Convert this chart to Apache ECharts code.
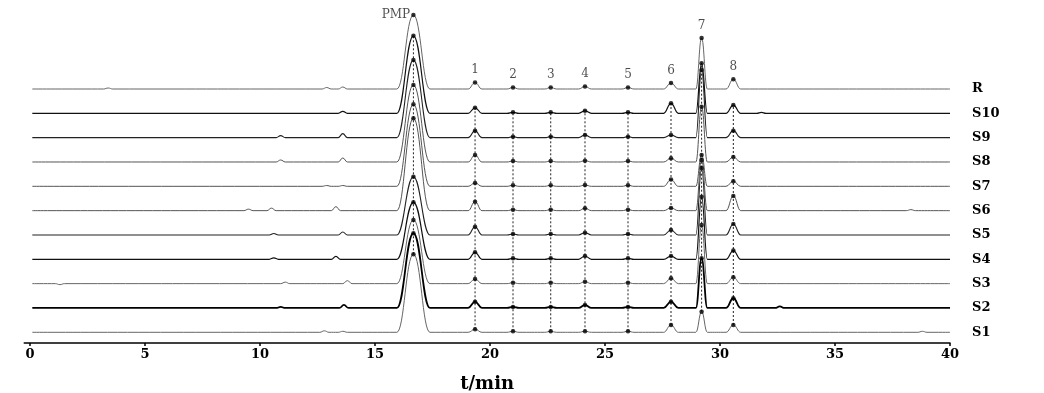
<!DOCTYPE html>
<html><head><meta charset="utf-8">
<script src="https://cdn.jsdelivr.net/npm/echarts@6/dist/echarts.min.js"></script>
<style>html,body{margin:0;padding:0;background:#fff}#c{width:1044px;height:393px}</style>
</head><body><div id="c"></div>
<script>
// ---- data ----
const samples = ['S1','S2','S3','S4','S5','S6','S7','S8','S9','S10','R'];
const peakLabels = ['PMP','1','2','3','4','5','6','7','8'];
const peakTimes = [16.67, 19.35, 21.0, 22.64, 24.13, 26.0, 27.87, 29.2, 30.58];
const peakHalfWidths = [0.72, 0.3, 0.26, 0.26, 0.28, 0.26, 0.32, 0.25, 0.32];
// apex heights per sample, order: PMP,1..8
const hS1  = [78,   3,   1, 1, 1,   1, 7.3, 20.6, 7.3];
const hS2  = [74.7, 6.3, 1, 1, 3,   1, 6.3, 49.7, 9.7];
const hS3  = [63.7, 4.7, 1, 1, 2,   1, 5.3, 58.7, 6.3];
const hS4  = [57,   7,   1, 1, 3.3, 1, 3.3, 62.6, 8.7];
const hS5  = [58.3, 8.3, 1, 1, 2.3, 1, 5,   67,   11];
const hS6  = [92.4, 9,   1, 1, 2.4, 1, 2.7, 50.7, 14.7];
const hS7  = [82,   3.4, 1, 1, 1.3, 1, 6.7, 31.3, 5];
const hS8  = [77,   7,   1, 1, 1.3, 1, 3.7, 55.3, 5];
const hS9  = [77.7, 7,   1, 1, 2.7, 1, 2.7, 67.7, 7];
const hS10 = [77.6, 5.6, 1, 1, 2.5, 1, 10,  50,   8.3];
const hR   = [74,   6.5, 1.5, 1.5, 2.5, 1.5, 6, 51, 9.7];
// small baseline bumps [time, height]
const mS1  = [[12.8,1.5],[13.6,1],[38.8,1]];
const mS2  = [[10.9,1],[13.65,3],[32.6,1.5]];
const mS3  = [[1.3,-1],[11.1,1.5],[13.8,3]];
const mS4  = [[10.6,1.5],[13.3,3]];
const mS5  = [[10.6,1.5],[13.6,3]];
const mS6  = [[9.5,1.5],[10.5,2.5],[13.3,4],[38.3,1]];
const mS7  = [[12.9,0.8],[13.6,0.8]];
const mS8  = [[10.9,2],[13.6,4]];
const mS9  = [[10.9,2],[13.6,4]];
const mS10 = [[13.6,2],[31.8,1]];
const mR   = [[3.4,1],[12.9,1.5],[13.6,2]];
const xTicks = [0,5,10,15,20,25,30,35,40];
const runStart = 0.1, runEnd = 40;

const heights = [hS1,hS2,hS3,hS4,hS5,hS6,hS7,hS8,hS9,hS10,hR];
const minors = [mS1,mS2,mS3,mS4,mS5,mS6,mS7,mS8,mS9,mS10,mR];

// ---- layout / style ----
const baseS1 = 10.7, traceGap = 24.33, minorHalfWidth = 0.2;
const traceColors = ['#666','#000','#666','#111','#222','#555','#555','#555','#222','#111','#666'];
const traceWidths = [1,1.8,1,1.2,1.1,1,1,1,1.1,1.2,1];
const serif = '"DejaVu Serif", "Liberation Serif", serif';

function baseOf(i){ return baseS1 + i*traceGap; }
function tracePoints(i){
  const base = baseOf(i);
  const pk = peakTimes.map((t,k)=>({t, w: peakHalfWidths[k], h: heights[i][k]}))
    .concat(minors[i].map(([t,h])=>({t, w: minorHalfWidth, h})))
    .sort((a,b)=>a.t-b.t);
  const pts = [[runStart, base]];
  pk.forEach(p=>{ pts.push([p.t-p.w, base],[p.t, base+p.h],[p.t+p.w, base]); });
  pts.push([runEnd, base]);
  return pts;
}

const series = [];
samples.forEach((name,i)=>{
  series.push({
    type:'line', name, data: tracePoints(i), showSymbol:false, symbol:'none',
    smooth:0.45, smoothMonotone:'x', silent:true, z:3,
    lineStyle:{color:traceColors[i], width:traceWidths[i]},
    endLabel:{show:true, formatter:'{a}', distance:22, color:'#000',
      fontFamily:serif, fontWeight:'bold', fontSize:13}
  });
});
// dotted connectors S1..S10
peakTimes.forEach((t,k)=>{
  const pts = [];
  for(let i=0;i<10;i++) pts.push([t, baseOf(i)+heights[i][k]]);
  series.push({type:'line', data:pts, symbol:'none', silent:true, z:2,
    lineStyle:{color:'#222', width:1, type:[2,2]}});
});
// apex dots
const dots = [];
for(let i=0;i<10;i++) peakTimes.forEach((t,k)=>dots.push([t, baseOf(i)+heights[i][k]]));
series.push({type:'scatter', data:dots, symbolSize:4.5, itemStyle:{color:'#000'}, silent:true, z:4});
// reference apex dots with labels
series.push({type:'scatter', symbolSize:4.5, itemStyle:{color:'#000'}, silent:true, z:4,
  data: peakTimes.map((t,k)=>({value:[t, baseOf(10)+hR[k]],
    label:{show:true, formatter:peakLabels[k], position: k===0?'left':'top', distance: k===0?1:4,
      color:'#1e1e1e', fontFamily:serif, fontSize:12}}))
});

const chart = echarts.init(document.getElementById('c'), null, {renderer:'canvas'});
chart.setOption({
  animation:false,
  backgroundColor:'#fff',
  grid:{left:24.25, right:94, top:3, bottom:50, containLabel:false, outerBoundsMode:'none'},
  xAxis:{type:'value', min:-0.25, max:40,
    name:'t/min', nameLocation:'middle', nameGap:32,
    nameTextStyle:{fontFamily:serif, fontWeight:'bold', fontSize:18, color:'#000'},
    axisLine:{show:true, lineStyle:{color:'#000', width:1.5}},
    axisTick:{show:true, customValues:xTicks, length:3, lineStyle:{color:'#000', width:1.5}},
    axisLabel:{customValues:xTicks, margin:5, color:'#000', fontFamily:serif, fontWeight:'bold', fontSize:13},
    splitLine:{show:false}},
  yAxis:{type:'value', min:0, max:340, show:false, splitLine:{show:false}},
  series
});
</script></body></html>
